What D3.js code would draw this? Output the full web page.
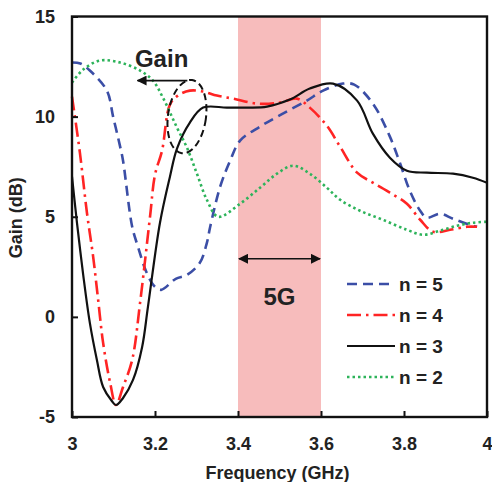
<!DOCTYPE html>
<html>
<head>
<meta charset="utf-8">
<script src="https://cdn.jsdelivr.net/npm/d3@7"></script>
<style>
  body { margin: 0; background: #fff; }
  text { font-family: "Liberation Sans", Arial, sans-serif; font-weight: bold; fill: #222; }
</style>
</head>
<body>
<svg id="chart" width="492" height="482"></svg>
<script>
'use strict';

// frequency (GHz), gain (dB)
let n5 = [[3.0,12.7],[3.02,12.65],[3.043,12.3],[3.084,11.3],[3.099,10.0],[3.116,8.5],[3.123,7.8],
    [3.145,4.5],[3.159,3.5],[3.18,2.2],[3.2,1.5],[3.215,1.35],[3.25,1.9],[3.277,2.1],[3.308,2.7],
    [3.325,3.7],[3.333,4.5],[3.357,6.5],[3.381,7.8],[3.405,8.8],[3.453,9.5],[3.508,10.15],
    [3.566,10.8],[3.605,11.3],[3.653,11.65],[3.68,11.6],[3.725,10.65],[3.766,9.0],[3.79,7.7],
    [3.814,6.3],[3.839,5.3],[3.855,4.95],[3.887,5.15],[3.918,4.9],[3.959,4.6],[3.976,4.5]];
let n4 = [[3.0,11.0],[3.019,8.2],[3.036,5.2],[3.051,3.0],[3.063,0.85],[3.075,-1.3],[3.092,-3.3],
    [3.106,-4.4],[3.123,-3.5],[3.145,-2.15],[3.164,0.7],[3.188,5.0],[3.2,7.1],[3.217,8.3],
    [3.236,10.6],[3.255,11.05],[3.284,11.3],[3.316,11.25],[3.349,11.05],[3.388,10.9],
    [3.446,10.65],[3.501,10.7],[3.542,10.9],[3.573,10.45],[3.614,9.55],[3.646,8.5],[3.687,7.2],
    [3.725,6.7],[3.766,6.2],[3.807,5.65],[3.839,4.85],[3.87,4.25],[3.911,4.35],[3.952,4.5],[3.976,4.5]];
let n3 = [[3.0,7.0],[3.012,4.7],[3.027,2.1],[3.043,-0.3],[3.06,-2.15],[3.075,-3.5],[3.096,-4.2],
    [3.106,-4.4],[3.123,-4.05],[3.147,-3.15],[3.169,-1.5],[3.183,0.5],[3.212,4.7],[3.236,7.0],
    [3.253,8.4],[3.284,9.7],[3.316,10.45],[3.373,10.45],[3.424,10.45],[3.47,10.5],[3.525,10.85],
    [3.573,11.4],[3.629,11.65],[3.687,10.8],[3.725,9.15],[3.766,7.95],[3.807,7.3],[3.855,7.2],
    [3.918,7.15],[3.966,6.95],[4.0,6.7]];
let n2 = [[3.0,11.7],[3.027,12.35],[3.067,12.8],[3.116,12.7],[3.164,12.3],[3.195,11.8],
    [3.219,10.95],[3.253,9.45],[3.277,8.45],[3.301,7.15],[3.325,5.85],[3.352,5.0],[3.405,5.65],
    [3.453,6.45],[3.494,7.15],[3.533,7.55],[3.573,7.15],[3.614,6.45],[3.646,5.85],[3.694,5.3],
    [3.749,4.85],[3.807,4.35],[3.846,4.1],[3.887,4.3],[3.928,4.55],[3.966,4.7],[4.0,4.75]];

let xTicks = [3, 3.2, 3.4, 3.6, 3.8, 4];
let xTickLabels = ['3', '3.2', '3.4', '3.6', '3.8', '4'];
let yTicks = [-5, 0, 5, 10, 15];
let yTickLabels = ['-5', '0', '5', '10', '15'];
let band5G = [3.4, 3.6];

let series = [
    {label: 'n = 5', data: n5, color: '#3b4ea6', dash: '10,6', width: 2.6},
    {label: 'n = 4', data: n4, color: '#ff2424', dash: '14,5,2.5,5', width: 2.6},
    {label: 'n = 3', data: n3, color: '#111111', dash: null, width: 2.2},
    {label: 'n = 2', data: n2, color: '#2db35a', dash: '2.5,3', width: 2.6}
];

let svg = d3.select('#chart');
let plotLeft = 72, plotRight = 487, plotTop = 16.5, plotBottom = 417;

let x = d3.scaleLinear().domain([3, 4]).range([plotLeft, plotRight]);
let y = d3.scaleLinear().domain([-5, 15]).range([plotBottom, plotTop]);

let defs = svg.append('defs');
defs.append('marker')
    .attr('id', 'head')
    .attr('viewBox', '0 0 10 10')
    .attr('refX', 9).attr('refY', 5)
    .attr('markerWidth', 10).attr('markerHeight', 10)
    .attr('markerUnits', 'userSpaceOnUse')
    .attr('orient', 'auto-start-reverse')
    .append('path')
    .attr('d', 'M0,0L10,5L0,10z')
    .attr('fill', '#111');

// 5G band
svg.append('rect')
    .attr('x', x(band5G[0]))
    .attr('y', plotTop)
    .attr('width', x(band5G[1]) - x(band5G[0]))
    .attr('height', plotBottom - plotTop)
    .attr('fill', '#f7bcbc');

let line = d3.line()
    .x(d => x(d[0]))
    .y(d => y(d[1]))
    .curve(d3.curveCatmullRom.alpha(0.5));

series.forEach(s => {
    svg.append('path')
        .attr('d', line(s.data))
        .attr('fill', 'none')
        .attr('stroke', s.color)
        .attr('stroke-width', s.width)
        .attr('stroke-dasharray', s.dash);
});

// axes with inward ticks
let xAxis = svg.append('g')
    .attr('transform', 'translate(0,' + plotBottom + ')')
    .call(d3.axisBottom(x).tickValues(xTicks).tickFormat((d, i) => xTickLabels[i])
        .tickSize(-6).tickSizeOuter(0).tickPadding(20));
let yAxis = svg.append('g')
    .attr('transform', 'translate(' + plotLeft + ',0)')
    .call(d3.axisLeft(y).tickValues(yTicks).tickFormat((d, i) => yTickLabels[i])
        .tickSize(-6).tickSizeOuter(0).tickPadding(17));

[xAxis, yAxis].forEach(a => {
    a.select('.domain').remove();
    a.selectAll('line').attr('stroke', '#111').attr('stroke-width', 2);
    a.selectAll('text').style('font-size', '18px').attr('fill', '#222');
});

svg.append('rect')
    .attr('x', plotLeft).attr('y', plotTop)
    .attr('width', plotRight - plotLeft).attr('height', plotBottom - plotTop)
    .attr('fill', 'none')
    .attr('stroke', '#111')
    .attr('stroke-width', 2.4);

svg.append('text')
    .attr('x', (plotLeft + plotRight) / 2 - 2)
    .attr('y', 479)
    .attr('text-anchor', 'middle')
    .style('font-size', '18px')
    .text('Frequency (GHz)');

svg.append('text')
    .attr('transform', 'translate(22,' + ((plotTop + plotBottom) / 2 + 1) + ') rotate(-90)')
    .attr('text-anchor', 'middle')
    .style('font-size', '18px')
    .text('Gain (dB)');

// Gain annotation: dashed ellipse and arrow
svg.append('ellipse')
    .attr('cx', x(3.277)).attr('cy', y(10.0))
    .attr('rx', 19).attr('ry', 37)
    .attr('transform', 'rotate(8,' + x(3.277) + ',' + y(10.0) + ')')
    .attr('fill', 'none')
    .attr('stroke', '#111')
    .attr('stroke-width', 2)
    .attr('stroke-dasharray', '7,4');

svg.append('line')
    .attr('x1', x(3.278)).attr('y1', y(11.8))
    .attr('x2', x(3.158)).attr('y2', y(11.8))
    .attr('stroke', '#111')
    .attr('stroke-width', 1.6)
    .attr('marker-end', 'url(#head)');

svg.append('text')
    .attr('x', x(3.216)).attr('y', y(12.5))
    .attr('text-anchor', 'middle')
    .style('font-size', '24px')
    .text('Gain');

// 5G double arrow
svg.append('line')
    .attr('x1', x(band5G[0]) + 1).attr('y1', y(2.9))
    .attr('x2', x(band5G[1]) - 1).attr('y2', y(2.9))
    .attr('stroke', '#111')
    .attr('stroke-width', 1.6)
    .attr('marker-start', 'url(#head)')
    .attr('marker-end', 'url(#head)');

svg.append('text')
    .attr('x', x(3.5)).attr('y', y(0.6))
    .attr('text-anchor', 'middle')
    .style('font-size', '24px')
    .text('5G');

// legend
let legend = svg.append('g').attr('transform', 'translate(347,284)');
series.forEach((s, i) => {
    let g = legend.append('g').attr('transform', 'translate(0,' + (i * 31) + ')');
    g.append('line')
        .attr('x1', 0).attr('x2', 48)
        .attr('stroke', s.color)
        .attr('stroke-width', s.width)
        .attr('stroke-dasharray', s.dash);
    g.append('text')
        .attr('x', 52).attr('y', 7)
        .style('font-size', '19px')
        .text(s.label);
});
</script>
</body>
</html>
